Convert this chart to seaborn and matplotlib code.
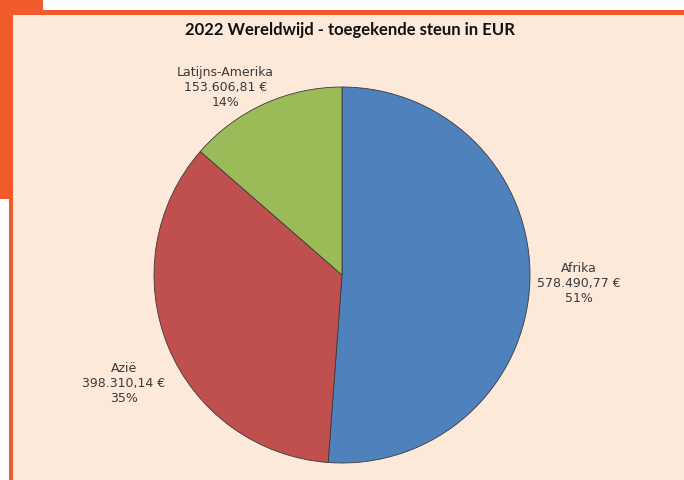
import matplotlib
matplotlib.use("Agg")
import matplotlib.pyplot as plt
import seaborn as sns
from matplotlib.patches import Rectangle

sns.set_theme(style="white")

# Data
regions = ["Afrika", "Azië", "Latijns-Amerika"]
amounts = [578490.77, 398310.14, 153606.81]
colors = ["#4F81BD", "#C0504D", "#9BBB59"]

title = "2022 Wereldwijd - toegekende steun in EUR"

W, H = 684, 481
fig = plt.figure(figsize=(W / 100, H / 100), dpi=100, facecolor="white")


def px_rect(x0, y0, x1, y1, color):
    # rectangle in pixel coords, y measured from the top
    fig.add_artist(Rectangle((x0 / W, 1 - y1 / H), (x1 - x0) / W, (y1 - y0) / H,
                             transform=fig.transFigure, facecolor=color,
                             edgecolor="none", zorder=0))


orange = "#F15A2B"
peach = "#FDE9DA"
px_rect(0, 0, 43, 11, orange)
px_rect(0, 11, W, 16, orange)
px_rect(0, 11, 13, 200, orange)
px_rect(9, 200, 13, H, orange)
px_rect(13, 16, W, H, peach)


def nl_money(v):
    s = f"{v:,.2f}"
    return s.replace(",", "X").replace(".", ",").replace("X", ".") + " €"


total = sum(amounts)
labels = [f"{r}\n{nl_money(a)}\n{round(a / total * 100)}%" for r, a in zip(regions, amounts)]

cx, cy, r = 342, 276, 188
ax = fig.add_axes([(cx - r) / W, 1 - (cy + r) / H, 2 * r / W, 2 * r / H])
ax.set_facecolor("none")
ax.pie(amounts, colors=colors, startangle=90, counterclock=False,
       wedgeprops=dict(edgecolor="#3a3a3a", linewidth=0.6))
ax.set_xlim(-1, 1)
ax.set_ylim(-1, 1)
ax.axis("off")

# label positions in pie units (layout)
label_pos = [(1.26, -0.04), (-1.16, -0.57), (-0.62, 1.0)]
for lab, (lx, ly) in zip(labels, label_pos):
    ax.text(lx, ly, lab, ha="center", va="center", fontsize=9,
            family="DejaVu Sans", color="#3a3a3a", linespacing=1.2,
            clip_on=False)

fig.text(350 / W, 1 - 30 / H, title, ha="center", va="center",
         fontsize=12, fontweight="bold", family="Lato", color="#111111")

fig.savefig("out.png", dpi=100, facecolor="white")
